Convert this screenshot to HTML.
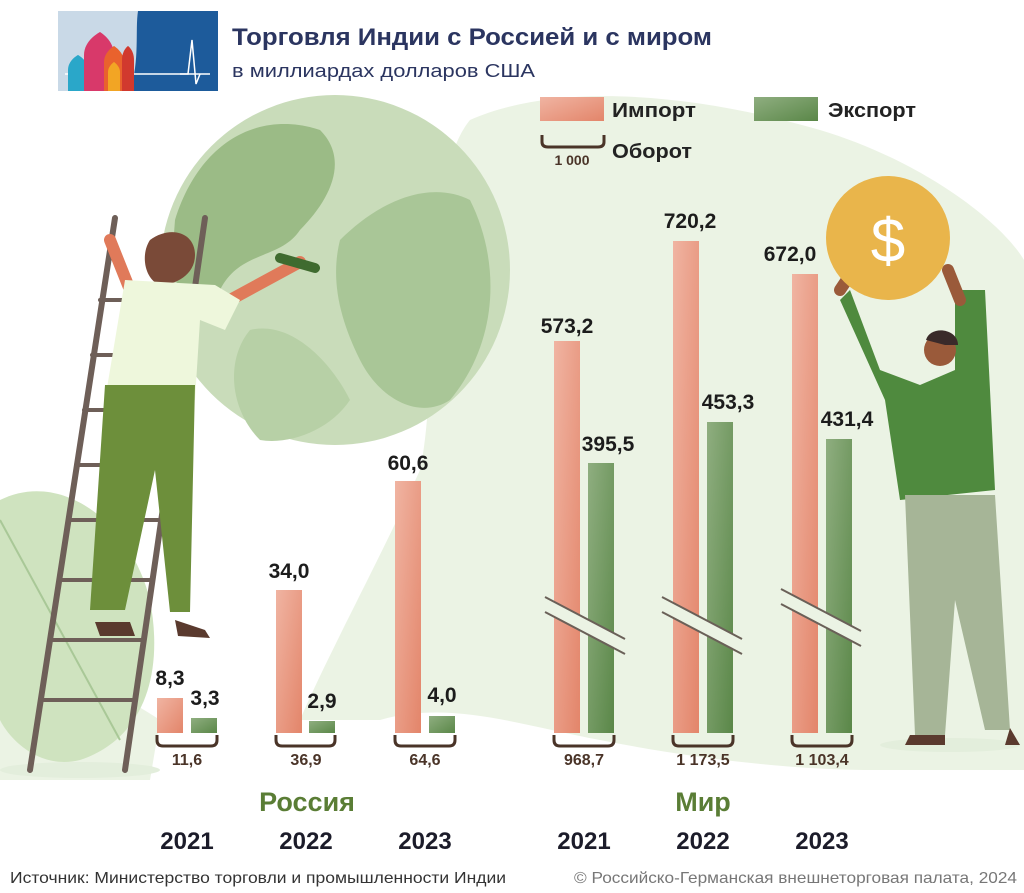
<!DOCTYPE html>
<html><head><meta charset="utf-8"><style>
html,body{margin:0;padding:0;background:#fff;}
svg{display:block;}
text{font-family:"Liberation Sans",sans-serif;}
</style></head><body>
<svg width="1024" height="893" viewBox="0 0 1024 893" xmlns="http://www.w3.org/2000/svg">
<defs>
<linearGradient id="imp" x1="0" y1="0" x2="1" y2="1">
<stop offset="0" stop-color="#f0b4a2"/><stop offset="1" stop-color="#e3856a"/></linearGradient>
<linearGradient id="exp" x1="0" y1="0" x2="1" y2="1">
<stop offset="0" stop-color="#8fae80"/><stop offset="1" stop-color="#5a8748"/></linearGradient>
</defs>
<!-- background blob -->
<path d="M470 120 C560 80 700 95 820 130 C920 160 1000 220 1024 260 L1024 770 L870 770 C800 770 700 760 600 740 C520 725 450 700 380 720 L300 720 C330 650 380 560 420 470 C440 380 420 180 470 120Z" fill="#ebf3e4"/>
<path d="M0 680 C60 660 130 700 160 720 L150 780 L0 780Z" fill="#ebf3e4"/>
<!-- globe -->
<circle cx="335" cy="270" r="175" fill="#c9dcba"/>
<path d="M175 220 C200 140 260 110 320 130 C350 160 330 200 300 230 C280 260 240 250 220 290 C200 320 175 300 172 260Z" fill="#9bbb86"/>
<path d="M340 240 C380 200 430 180 470 200 C500 260 500 340 450 400 C420 420 380 400 360 360 C340 320 330 280 340 240Z" fill="#a9c697"/>
<path d="M250 330 C290 320 330 360 350 400 C330 430 290 445 260 440 C230 410 225 360 250 330Z" fill="#b7d0a6"/>
<!-- leaf -->
<path d="M0 500 C60 470 130 520 150 600 C165 680 140 740 80 760 C40 770 10 740 0 720Z" fill="#cfe3bf"/>
<path d="M0 520 L120 740" stroke="#a9c897" stroke-width="2"/>
<ellipse cx="80" cy="770" rx="80" ry="8" fill="#e3eedc"/>
<ellipse cx="950" cy="745" rx="70" ry="7" fill="#e3eedc"/>
<!-- ladder -->
<g stroke="#6e5f58" stroke-width="6" stroke-linecap="round">
<line x1="115" y1="218" x2="30" y2="770"/><line x1="205" y1="218" x2="125" y2="770"/>
<line x1="100" y1="300" x2="190" y2="300" stroke-width="4"/><line x1="92" y1="355" x2="182" y2="355" stroke-width="4"/>
<line x1="84" y1="410" x2="174" y2="410" stroke-width="4"/><line x1="76" y1="465" x2="166" y2="465" stroke-width="4"/>
<line x1="68" y1="520" x2="158" y2="520" stroke-width="4"/><line x1="60" y1="580" x2="150" y2="580" stroke-width="4"/>
<line x1="52" y1="640" x2="142" y2="640" stroke-width="4"/><line x1="44" y1="700" x2="134" y2="700" stroke-width="4"/>
</g>
<!-- woman -->
<path d="M150 240 C170 225 195 232 195 255 C195 275 175 285 160 285 C145 280 140 255 150 240Z" fill="#7a4a38"/>
<path d="M110 240 L130 290" stroke="#e07a5a" stroke-width="12" stroke-linecap="round"/>
<path d="M230 300 L300 262" stroke="#e07a5a" stroke-width="12" stroke-linecap="round"/>
<path d="M280 258 L315 268" stroke="#3f6b2f" stroke-width="10" stroke-linecap="round"/>
<path d="M125 280 L215 285 L240 300 L225 330 L200 320 L195 400 L105 400 Z" fill="#eef7dc"/>
<path d="M105 385 L195 385 L190 612 L170 612 L155 470 L125 610 L90 610 Z" fill="#6d8f3b"/>
<path d="M95 622 L130 622 L135 636 L100 636Z M175 620 L205 630 L210 638 L178 636Z" fill="#5a3a2e"/>
<!-- man -->
<path d="M850 290 L880 370 L920 385 L955 370 L955 290 L985 290 L995 490 L900 500 L885 400 L840 300Z" fill="#4f8a3e"/>
<path d="M905 495 L995 495 L1010 730 L985 730 L955 600 L945 735 L915 735Z" fill="#a6b597"/>
<circle cx="940" cy="350" r="16" fill="#9a5a3a"/>
<path d="M926 340 C930 325 958 328 958 345 L945 345Z" fill="#3a2a2a"/>
<path d="M840 290 L850 275 M948 270 L960 300" stroke="#9a5a3a" stroke-width="12" stroke-linecap="round"/>
<path d="M910 735 L945 735 L945 745 L905 745Z M1010 728 L1020 745 L1005 745Z" fill="#5a3a2e"/>
<circle cx="888" cy="238" r="62" fill="#e9b54b"/>
<text x="888" y="262" font-size="62" fill="#fff" text-anchor="middle">$</text>
<!-- logo -->
<rect x="58" y="11" width="160" height="80" fill="#c9d9e7"/>
<path d="M138 11 L218 11 L218 91 L130 91 C140 60 135 30 138 11Z" fill="#1d5b9b"/>
<path d="M65 74 L210 74" stroke="#fff" stroke-width="1.5"/>
<path d="M180 74 L188 74 L192 40 L196 84 L200 74" stroke="#fff" stroke-width="1.5" fill="none"/>
<path d="M68 91 L68 70 C68 60 78 55 78 55 C78 55 88 60 88 70 L88 91Z" fill="#2aa7c9"/>
<path d="M84 91 L84 55 C84 40 100 32 100 32 C100 32 114 40 114 55 L114 91Z" fill="#d8396a"/>
<path d="M104 91 L104 62 C104 52 114 46 114 46 C114 46 124 52 124 62 L124 91Z" fill="#e9622d"/>
<path d="M108 91 L108 72 C108 66 114 62 114 62 C114 62 120 66 120 72 L120 91Z" fill="#f2a524"/>
<path d="M122 91 L122 60 C122 50 128 46 128 46 C128 46 134 50 134 60 L134 91Z" fill="#d1392e"/>
<!-- titles -->
<text x="232" y="45" font-size="24" font-weight="bold" fill="#2b3560" textLength="480" lengthAdjust="spacingAndGlyphs">Торговля Индии с Россией и с миром</text>
<text x="232" y="77" font-size="18" fill="#2b3560" textLength="303" lengthAdjust="spacingAndGlyphs">в миллиардах долларов США</text>
<!-- legend -->
<rect x="540" y="97" width="64" height="24" fill="url(#imp)"/>
<text x="612" y="117" font-size="20" font-weight="bold" fill="#222" textLength="84" lengthAdjust="spacingAndGlyphs">Импорт</text>
<rect x="754" y="97" width="64" height="24" fill="url(#exp)"/>
<text x="828" y="117" font-size="20" font-weight="bold" fill="#222" textLength="88" lengthAdjust="spacingAndGlyphs">Экспорт</text>
<path d="M542 135 L542 142 Q542 147 548 147 L598 147 Q604 147 604 142 L604 135" stroke="#4a3428" stroke-width="3" fill="none"/>
<text x="572" y="165" font-size="14" font-weight="bold" fill="#4a3428" text-anchor="middle">1 000</text>
<text x="612" y="158" font-size="20" font-weight="bold" fill="#222" textLength="80" lengthAdjust="spacingAndGlyphs">Оборот</text>
<!-- bars -->
<g>
<rect x="157" y="698" width="26" height="35" fill="url(#imp)"/><rect x="191" y="718" width="26" height="15" fill="url(#exp)"/>
<rect x="276" y="590" width="26" height="143" fill="url(#imp)"/><rect x="309" y="721" width="26" height="12" fill="url(#exp)"/>
<rect x="395" y="481" width="26" height="252" fill="url(#imp)"/><rect x="429" y="716" width="26" height="17" fill="url(#exp)"/>
<rect x="554" y="341" width="26" height="392" fill="url(#imp)"/><rect x="588" y="463" width="26" height="270" fill="url(#exp)"/>
<rect x="673" y="241" width="26" height="492" fill="url(#imp)"/><rect x="707" y="422" width="26" height="311" fill="url(#exp)"/>
<rect x="792" y="274" width="26" height="459" fill="url(#imp)"/><rect x="826" y="439" width="26" height="294" fill="url(#exp)"/>
</g>
<!-- breaks -->
<g stroke="#6a6058" stroke-width="2">
<polygon points="545,597 625,639 625,653 545,611" fill="#ebf3e4" stroke="none"/>
<line x1="545" y1="597" x2="625" y2="639"/><line x1="545" y1="612" x2="625" y2="654"/>
<polygon points="662,597 742,639 742,653 662,611" fill="#ebf3e4" stroke="none"/>
<line x1="662" y1="597" x2="742" y2="639"/><line x1="662" y1="612" x2="742" y2="654"/>
<polygon points="781,589 861,631 861,645 781,603" fill="#ebf3e4" stroke="none"/>
<line x1="781" y1="589" x2="861" y2="631"/><line x1="781" y1="604" x2="861" y2="646"/>
</g>
<!-- value labels -->
<g font-size="21" font-weight="bold" fill="#1c1c1c" text-anchor="middle">
<text x="170" y="685">8,3</text><text x="205" y="705">3,3</text>
<text x="289" y="578">34,0</text><text x="322" y="708">2,9</text>
<text x="408" y="470">60,6</text><text x="442" y="702">4,0</text>
<text x="567" y="333">573,2</text><text x="608" y="451">395,5</text>
<text x="690" y="228">720,2</text><text x="728" y="409">453,3</text>
<text x="790" y="261">672,0</text><text x="847" y="426">431,4</text>
</g>
<!-- brackets -->
<g stroke="#4a3428" stroke-width="3" fill="none">
<path d="M157 735 L157 740 Q157 746 163 746 L211 746 Q217 746 217 740 L217 735"/>
<path d="M276 735 L276 740 Q276 746 282 746 L329 746 Q335 746 335 740 L335 735"/>
<path d="M395 735 L395 740 Q395 746 401 746 L449 746 Q455 746 455 740 L455 735"/>
<path d="M554 735 L554 740 Q554 746 560 746 L608 746 Q614 746 614 740 L614 735"/>
<path d="M673 735 L673 740 Q673 746 679 746 L727 746 Q733 746 733 740 L733 735"/>
<path d="M792 735 L792 740 Q792 746 798 746 L846 746 Q852 746 852 740 L852 735"/>
</g>
<g font-size="16" font-weight="bold" fill="#4a3428" text-anchor="middle">
<text x="187" y="765">11,6</text><text x="306" y="765">36,9</text><text x="425" y="765">64,6</text>
<text x="584" y="765">968,7</text><text x="703" y="765">1 173,5</text><text x="822" y="765">1 103,4</text>
</g>
<text x="307" y="811" font-size="27" font-weight="bold" fill="#5a7d35" text-anchor="middle">Россия</text>
<text x="703" y="811" font-size="27" font-weight="bold" fill="#5a7d35" text-anchor="middle">Мир</text>
<g font-size="24" font-weight="bold" fill="#1c1c2a" text-anchor="middle">
<text x="187" y="849">2021</text><text x="306" y="849">2022</text><text x="425" y="849">2023</text>
<text x="584" y="849">2021</text><text x="703" y="849">2022</text><text x="822" y="849">2023</text>
</g>
<text x="10" y="883" font-size="16" fill="#333" textLength="496" lengthAdjust="spacingAndGlyphs">Источник: Министерство торговли и промышленности Индии</text>
<text x="1017" y="883" font-size="16" fill="#777" text-anchor="end" textLength="443" lengthAdjust="spacingAndGlyphs">© Российско-Германская внешнеторговая палата, 2024</text>
</svg>
</body></html>
